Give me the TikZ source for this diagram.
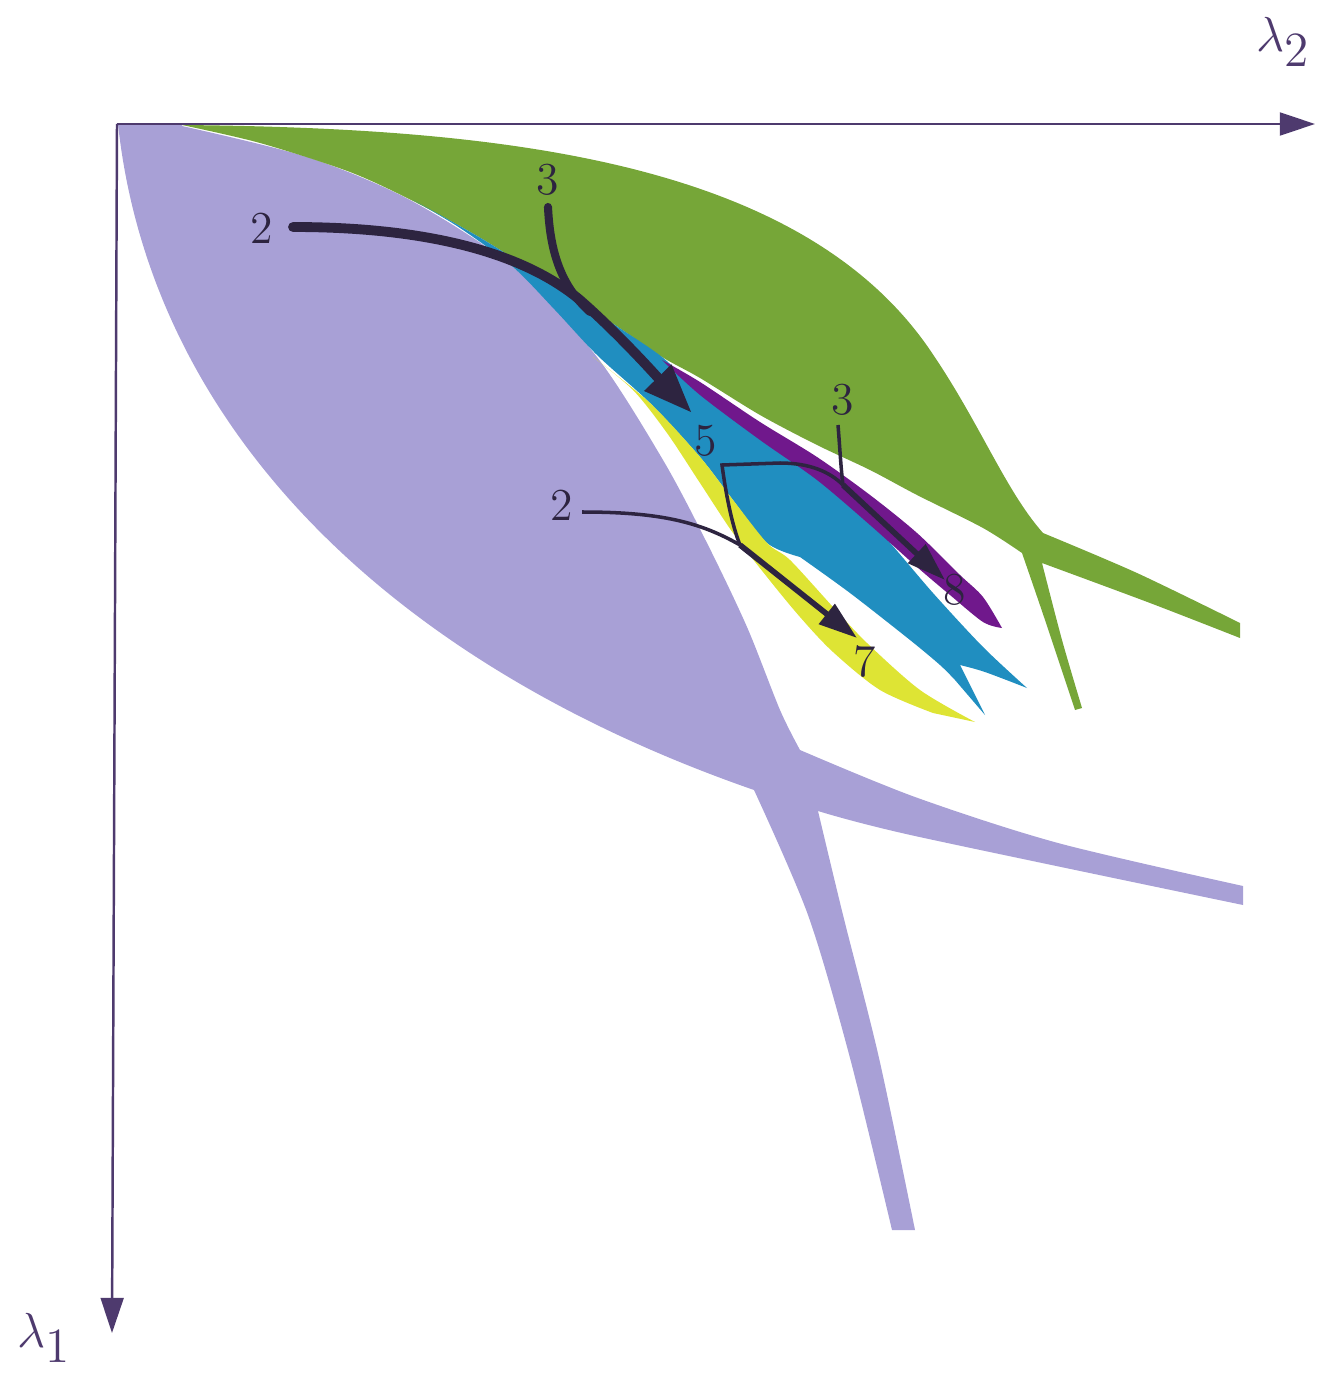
\documentclass[tikz,border=0pt]{standalone}
\usepackage{fix-cm}
\usetikzlibrary{arrows.meta}
\definecolor{lilac}{RGB}{168,160,214}
\definecolor{leaf}{RGB}{118,166,56}
\definecolor{sea}{RGB}{32,142,192}
\definecolor{lemon}{RGB}{222,228,52}
\definecolor{plum}{RGB}{112,24,140}
\definecolor{ink}{RGB}{45,36,64}
\definecolor{axisink}{RGB}{78,58,110}
\begin{document}
\begin{tikzpicture}[x=0.01cm, y=-0.01cm,
    num/.style={text=ink, font=\fontsize{13}{15}\selectfont, inner sep=0pt},
    axislbl/.style={text=axisink, font=\fontsize{14}{16}\selectfont, inner sep=0pt},
    axisline/.style={draw=axisink, line width=0.7pt, -{Triangle[length=10pt,width=6.5pt]}},
    fatarrow/.style={draw=ink, line width=2.8pt, line cap=round},
    thinarrow/.style={draw=ink, line width=1pt, line join=miter},
    midarrow/.style={draw=ink, line width=1.6pt, -{Triangle[length=11pt,width=7pt]}}]
    \useasboundingbox (0,0) rectangle (1317,1373);
    % Lilac region with its two arms
    \fill[lilac] (118,124) -- (182,125)
        -- plot[smooth] coordinates {(182,126) (307,157) (410,200) (513,267) (597,357) (663,460) (707,543) (747,627) (780,710) (800,750)}
        -- plot[smooth] coordinates {(800,750) (915,797) (1058,843) (1243,886)}
        -- (1243,905)
        -- plot[smooth] coordinates {(1243,905) (915,836) (818,811)}
        -- plot[smooth] coordinates {(818,811) (843,915) (879,1058) (915,1230)}
        -- (892,1230)
        -- plot[smooth] coordinates {(892,1230) (850,1058) (808,915) (754,790)}
        .. controls (380,660) and (150,420) .. (118,124)
        -- cycle;
    % Green region with its two arms
    \fill[leaf] (182,125) .. controls (500,128) and (800,160) .. (930,350)
        .. controls (980,423) and (1005,490) .. (1043,533)
        -- plot[smooth] coordinates {(1043,533) (1137,573) (1240,623)}
        -- (1240,638)
        -- plot[smooth] coordinates {(1240,638) (1150,603) (1042,563)}
        -- plot[smooth] coordinates {(1042,563) (1062,640) (1082,708)}
        -- (1075,710)
        -- plot[smooth] coordinates {(1075,710) (1045,620) (1022,553)}
        -- plot[smooth] coordinates {(1022,553) (983,528) (917,495) (870,470) (817,445) (760,415) (700,378) (662,357) (618,327) (551,283) (484,240) (417,203) (350,172) (260,143) (182,125)}
        -- cycle;
    % Blue sliver
    \fill[sea] (413,200)
        -- plot[smooth] coordinates {(413,200) (484,240) (551,283) (618,327) (662,357) (700,392) (760,438) (817,478) (837,490) (883,535) (933,593) (983,647) (1027,688)}
        -- plot[smooth] coordinates {(1027,688) (985,672) (960,665)}
        -- (985,715) -- (955,680)
        -- plot[smooth] coordinates {(955,680) (940,665) (910,640) (850,593) (800,557)}
        -- plot[smooth] coordinates {(800,557) (767,543) (733,500) (700,457) (650,403) (597,355) (555,310) (513,267) (460,228) (413,200)}
        -- cycle;
    % Yellow sliver
    \fill[lemon] (593,357)
        -- plot[smooth] coordinates {(593,357) (650,403) (700,457) (733,500) (767,543) (790,560) (833,607) (867,643) (920,690) (975,722)}
        -- (933,713)
        -- plot[smooth] coordinates {(933,713) (880,690) (833,652) (800,617) (767,577) (733,533) (700,483) (667,433) (633,390) (593,357)}
        -- cycle;
    % Purple band
    \fill[plum] (662,360)
        -- plot[smooth] coordinates {(662,360) (700,382) (760,422) (817,457) (870,495) (917,533) (960,575) (983,597) (1002,628)}
        -- plot[smooth] coordinates {(1002,628) (983,622) (950,595) (917,567) (870,525) (817,480) (760,440) (700,395) (662,360)}
        -- cycle;
    % Axes
    \draw[axisline] (117,124) -- (1315,124);
    \draw[axisline] (117,124) -- (112,1333);
    \node[axislbl] (lamTwo) at (1283,42) {$\lambda_{\textstyle 2}$};
    \node[axislbl] (lamOne) at (44,1338) {$\lambda_{\textstyle 1}$};
    % Labels
    \node[num] (lblTwoA) at (262,228) {2};
    \node[num] (lblThreeA) at (548,180) {3};
    \node[num] (lblThreeB) at (843,400) {3};
    \node[num] (lblFive) at (706,441) {5};
    \node[num] (lblTwoB) at (562,505) {2};
    \node[num] (lblSeven) at (865,662) {7};
    \node[num] (lblEight) at (955,590) {8};
    % Junctions and ends of the paths
    \coordinate (sTwoA) at (293,227);
    \coordinate (tTwoA) at (692,413);
    \coordinate (sThreeA) at (548,207);
    \coordinate (mThreeA) at (590,312);
    \coordinate (sThreeB) at (838,425);
    \coordinate (sTwoB) at (582,512);
    \coordinate (cFive) at (722,465);
    \coordinate (jSeven) at (740,545);
    \coordinate (jEight) at (843,485);
    \coordinate (tSeven) at (857,638);
    \coordinate (tEight) at (945,580);
    % Upper paths 2 and 3
    \draw[fatarrow, -{Triangle[length=14pt,width=10pt]}] (sTwoA) .. controls (420,227) and (520,250) .. (580,300)
        .. controls (620,335) and (660,380) .. (tTwoA);
    \draw[fatarrow, line width=2.3pt] (sThreeA) .. controls (550,250) and (560,285) .. (mThreeA);
    % Lower paths
    \draw[thinarrow] (sTwoB) .. controls (660,512) and (700,522) .. (jSeven);
    \draw[thinarrow] (jSeven) .. controls (732,525) and (726,495) .. (cFive) -- (780,463)
        .. controls (810,463) and (830,472) .. (jEight);
    \draw[thinarrow] (sThreeB) .. controls (840,450) and (841,470) .. (jEight);
    \draw[midarrow] (jSeven) -- (tSeven);
    \draw[midarrow] (jEight) -- (tEight);
\end{tikzpicture}
\end{document}
